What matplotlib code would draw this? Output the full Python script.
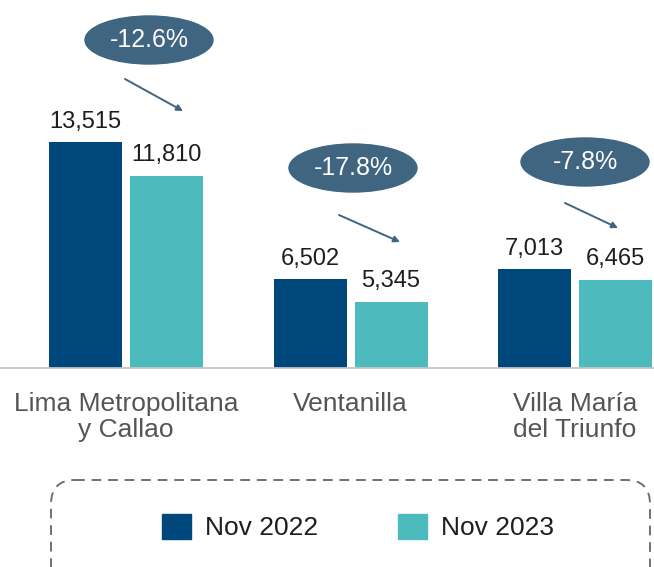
import numpy as np
import matplotlib
matplotlib.use("Agg")
import matplotlib.pyplot as plt
from matplotlib.patches import Ellipse, FancyBboxPatch, Patch

plt.rcParams["font.family"] = ["Liberation Sans", "DejaVu Sans"]

# Data
categories = ["Lima Metropolitana\ny Callao", "Ventanilla", "Villa María\ndel Triunfo"]
series_names = ["Nov 2022", "Nov 2023"]
nov_2022 = [13515, 6502, 7013]
nov_2023 = [11810, 5345, 6465]

c_2022 = "#00487c"
c_2023 = "#4dbabd"
c_bubble = "#3f6581"

# Figure: 654x567 px
W, H = 654, 567
fig = plt.figure(figsize=(W / 100, H / 100), dpi=100)
base_px = 368  # baseline position from top
ax = fig.add_axes([0, 1 - base_px / H, 1, base_px / H])

x = np.arange(len(categories))
group_px = 224.5
bw = 73 / group_px
off = 40.5 / group_px
b1 = ax.bar(x - off, nov_2022, bw, color=c_2022, label=series_names[0])
b2 = ax.bar(x + off, nov_2023, bw, color=c_2023, label=series_names[1])

ax.bar_label(b1, labels=[f"{v:,}" for v in nov_2022], padding=7, fontsize=17, color="#1e1e1e")
ax.bar_label(b2, labels=[f"{v:,}" for v in nov_2023], padding=7, fontsize=17, color="#1e1e1e")

# axis range (y not starting at zero, as in the original)
ymin = 1950
ax.set_ylim(ymin, ymin + base_px / 0.0195)
ax.set_xlim(-126 / group_px, (W - 126) / group_px)

ax.set_yticks([])
ax.set_xticks(x)
ax.set_xticklabels(categories, fontsize=19, color="#555555", linespacing=1.15)
ax.tick_params(axis="x", length=0, pad=17)
for s in ["top", "right", "left"]:
    ax.spines[s].set_visible(False)
ax.spines["bottom"].set_color("#c4c4c4")
ax.spines["bottom"].set_linewidth(1.3)
ax.patch.set_alpha(0)

# Overlay in pixel coordinates for bubbles, arrows and legend frame
ov = fig.add_axes([0, 0, 1, 1], zorder=5)
ov.set_xlim(0, W)
ov.set_ylim(H, 0)
ov.axis("off")

changes = [(b / a - 1) * 100 for a, b in zip(nov_2022, nov_2023)]
bubble_xy = [(149, 40), (353, 168), (585, 162)]
arrow_from = [(125, 79), (339, 215), (565, 203)]
arrow_to = [(183, 111), (400, 242), (618, 228)]

for pct, (cx, cy), p0, p1 in zip(changes, bubble_xy, arrow_from, arrow_to):
    ov.add_patch(Ellipse((cx, cy), 128, 48, color=c_bubble))
    ov.text(cx, cy, f"{pct:.1f}%", ha="center", va="center", color="white", fontsize=18)
    ov.annotate("", xy=p1, xytext=p0,
                arrowprops=dict(arrowstyle="-|>", color=c_bubble, lw=1.4, mutation_scale=9,
                                shrinkA=0, shrinkB=0))

# Legend with dashed rounded frame
ov.add_patch(FancyBboxPatch((51, 480), 599, 130, boxstyle="round,pad=0,rounding_size=24",
                            fc="none", ec="#707070", lw=1.4, ls=(0, (5, 3.5)), clip_on=False))
handles = [Patch(color=c_2022), Patch(color=c_2023)]
fig.legend(handles, series_names, loc="center", bbox_to_anchor=(358 / W, 1 - 527 / H),
           ncol=2, frameon=False, fontsize=19, handlelength=1.1, handleheight=1.1,
           handletextpad=0.55, columnspacing=3.0, labelcolor="#1e1e1e")

fig.savefig("out.png", dpi=100)
